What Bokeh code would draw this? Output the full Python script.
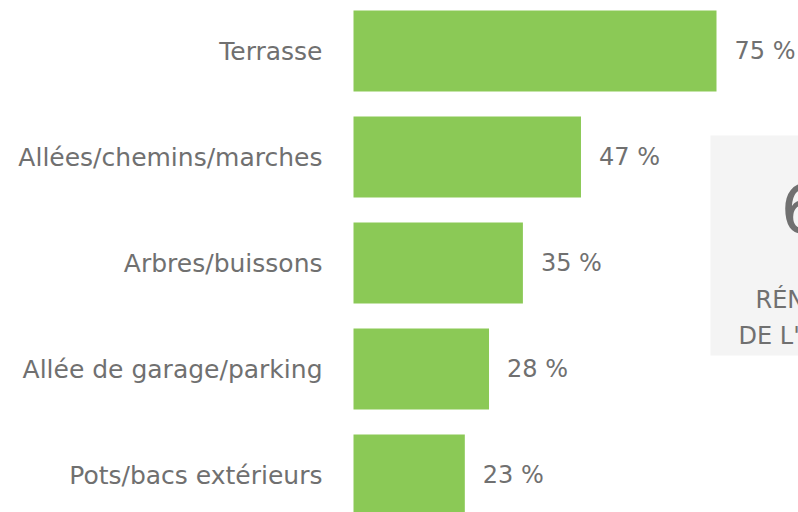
from bokeh.plotting import figure
from bokeh.models import ColumnDataSource, Range1d, BoxAnnotation, Label
from bokeh.embed import file_html
from bokeh.resources import INLINE

categories = ["Terrasse", "Allées/chemins/marches", "Arbres/buissons",
              "Allée de garage/parking", "Pots/bacs extérieurs"]
values = [75, 47, 35, 28, 23]
value_labels = [f"{v} %" for v in values]
box_number = "6"
box_line1 = "RÉNOVATIONS"
box_line2 = "DE L'EXTÉRIEUR"

W, H = 798, 512
PX_PER_UNIT = 4.84
ORIGIN = 353
PITCH = 106
TOP_PAD = 50.5 / PITCH

GREEN = "#8bc956"
TEXT = "#707070"
FONT = "DejaVu Sans"

pos = list(range(len(categories)))
src = ColumnDataSource(dict(y=pos, v=values, cat=categories, lab=value_labels,
                            zero=[0] * len(values)))

p = figure(width=W, height=H, output_backend="svg", toolbar_location=None,
           x_range=Range1d(-ORIGIN / PX_PER_UNIT, (W - ORIGIN) / PX_PER_UNIT),
           y_range=Range1d(H / PITCH - TOP_PAD, -TOP_PAD),
           min_border=0, outline_line_color=None)
p.xaxis.visible = False
p.yaxis.visible = False
p.grid.visible = False

p.add_layout(BoxAnnotation(left=710, right=1100, top=377, bottom=157,
                           left_units="screen", right_units="screen",
                           top_units="screen", bottom_units="screen",
                           fill_color="#f4f4f4", fill_alpha=1.0,
                           line_color=None, level="underlay"))

p.hbar(y="y", left="zero", right="v", height=81 / PITCH, source=src,
       fill_color=GREEN, line_color=None)

p.text(x="zero", y="y", text="cat", source=src, x_offset=-31,
       text_align="right", text_baseline="middle", text_font_size="25px",
       text_color=TEXT, text_font={"value": FONT})
p.text(x="v", y="y", text="lab", source=src, x_offset=18,
       text_align="left", text_baseline="middle", text_font_size="24px",
       text_color=TEXT, text_font={"value": FONT})

p.add_layout(Label(x=780, y=305, x_units="screen", y_units="screen",
                   text=box_number, text_font_size="68px", text_color=TEXT,
                   text_font=FONT, text_baseline="alphabetic"))
p.add_layout(Label(x=755, y=213, x_units="screen", y_units="screen",
                   text=box_line1, text_font_size="24px", text_color=TEXT,
                   text_font=FONT, text_baseline="alphabetic"))
p.add_layout(Label(x=738, y=177, x_units="screen", y_units="screen",
                   text=box_line2, text_font_size="24px", text_color=TEXT,
                   text_font=FONT, text_baseline="alphabetic"))

open("out.html", "w").write(file_html(p, INLINE))
